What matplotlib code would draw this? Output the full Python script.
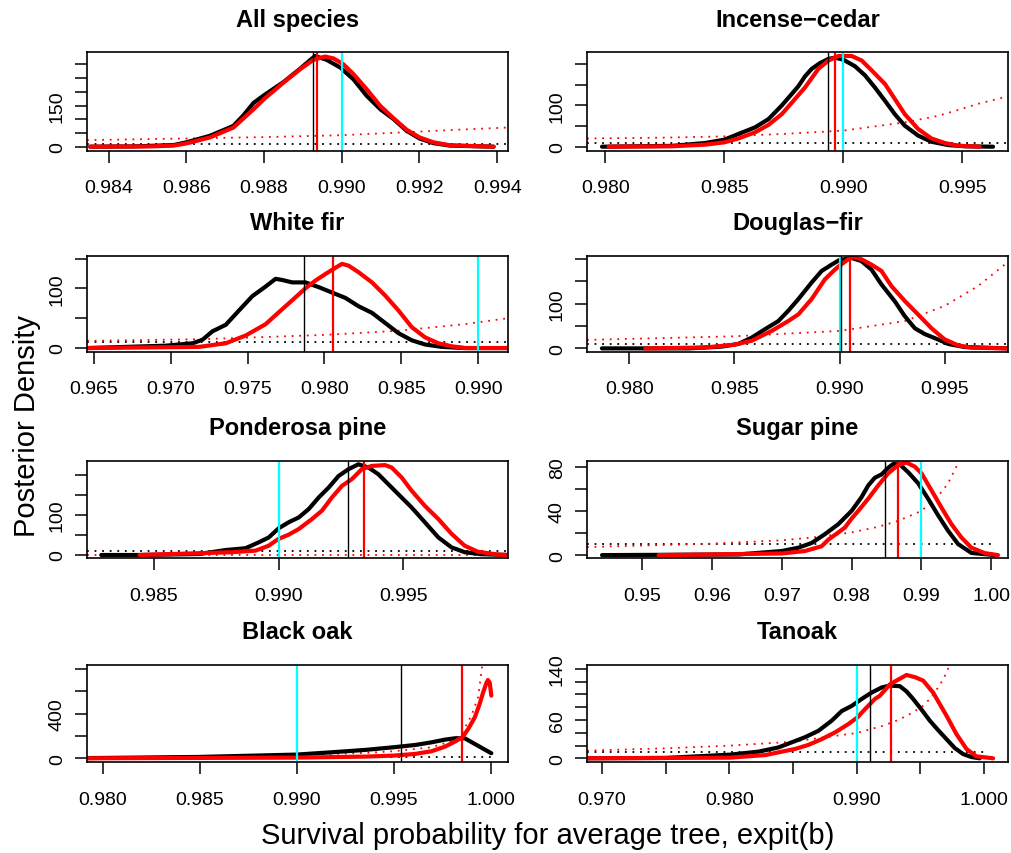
import matplotlib
matplotlib.use("Agg")
import matplotlib.pyplot as plt

plt.rcParams["font.family"] = ["Liberation Sans", "DejaVu Sans"]

# ---------------- DATA ---------------- #

TITLES = ["All species", "Incense\u2212cedar", "White fir", "Douglas\u2212fir",
          "Ponderosa pine", "Sugar pine", "Black oak", "Tanoak"]

TARGET = 0.990          # cyan reference line
FLAT_PRIOR = 10.0       # black dotted prior density
FLAT_PRIOR_END = 1.0

# All species
ALL_XLIM = [0.98344, 0.99428]
ALL_YLIM = [-14.6, 344.5]
ALL_XTICKS = [0.984, 0.986, 0.988, 0.990, 0.992, 0.994]
ALL_XLABELS = ["0.984", "0.986", "0.988", "0.990", "0.992", "0.994"]
ALL_YTICKS = [0, 50, 100, 150, 200, 250, 300]
ALL_YLABELS = ["0", "", "", "150", "", "", ""]
ALL_BLACK_X = [0.98352, 0.98464, 0.98567, 0.98600, 0.98661, 0.98721, 0.98747, 0.98773,
               0.98800, 0.98850, 0.98893, 0.98931, 0.98961, 0.98996, 0.99030, 0.99064,
               0.99099, 0.99133, 0.99167, 0.99200, 0.99236, 0.99279, 0.99391]
ALL_BLACK_Y = [0, 1, 6, 16, 40, 76, 115, 160, 188, 236, 285, 331, 317, 289, 246, 186,
               137, 101, 58, 30, 13, 4, 0]
ALL_RED_X = [0.98352, 0.98506, 0.98567, 0.98600, 0.98661, 0.98721, 0.98773, 0.98800,
             0.98850, 0.98893, 0.98927, 0.98957, 0.98979, 0.99004, 0.99030, 0.99064,
             0.99099, 0.99133, 0.99167, 0.99200, 0.99236, 0.99279, 0.99391]
ALL_RED_Y = [0, 1, 4, 12, 34, 70, 137, 174, 234, 283, 317, 329, 322, 301, 265, 210,
             149, 104, 62, 34, 16, 5, 0]
ALL_PRIOR_X = [0.98344, 0.98600, 0.98800, 0.99000, 0.99200, 0.99300, 0.99428]
ALL_PRIOR_Y = [24, 30, 35, 42, 55, 62, 70]
ALL_VLINES = [0.98927, 0.98936]

# Incense-cedar
IC_XLIM = [0.97923, 0.99693]
IC_YLIM = [-9.7, 229]
IC_XTICKS = [0.980, 0.985, 0.990, 0.995]
IC_XLABELS = ["0.980", "0.985", "0.990", "0.995"]
IC_YTICKS = [0, 50, 100, 150, 200]
IC_YLABELS = ["0", "", "100", "", ""]
IC_BLACK_X = [0.97986, 0.98280, 0.98420, 0.98500, 0.98560, 0.98630, 0.98686, 0.98742,
              0.98784, 0.98812, 0.98840, 0.98868, 0.98903, 0.98938, 0.98966, 0.99001,
              0.99050, 0.99092, 0.99133, 0.99175, 0.99217, 0.99259, 0.99315, 0.99371,
              0.99441, 0.99511, 0.99630]
IC_BLACK_Y = [0, 2, 9, 17, 31, 47, 67, 100, 128, 147, 171, 189, 203, 213, 216, 211,
              195, 173, 144, 112, 79, 51, 27, 12, 4, 1, 0]
IC_RED_X = [0.98014, 0.98280, 0.98420, 0.98500, 0.98560, 0.98630, 0.98686, 0.98742,
            0.98798, 0.98840, 0.98896, 0.98938, 0.98980, 0.99036, 0.99078, 0.99120,
            0.99176, 0.99217, 0.99259, 0.99315, 0.99371, 0.99427, 0.99483, 0.99574]
IC_RED_Y = [0, 1, 5, 10.5, 20, 35, 53, 79, 116, 144, 189, 209, 220, 220, 209, 185,
            152, 116, 79, 43, 20, 9, 2.4, 0]
IC_PRIOR_X = [0.97923, 0.98250, 0.98500, 0.98750, 0.99000, 0.99260, 0.99400, 0.99500,
              0.99567, 0.99693]
IC_PRIOR_Y = [20, 22, 25, 31, 39, 59, 75, 92, 104, 122]
IC_VLINES = [0.98938, 0.98966]

# White fir
WF_XLIM = [0.96455, 0.99194]
WF_YLIM = [-6.1, 154.7]
WF_XTICKS = [0.965, 0.970, 0.975, 0.980, 0.985, 0.990]
WF_XLABELS = ["0.965", "0.970", "0.975", "0.980", "0.985", "0.990"]
WF_YTICKS = [0, 50, 100, 150]
WF_YLABELS = ["0", "", "100", ""]
WF_BLACK_X = [0.96461, 0.96969, 0.97142, 0.97207, 0.97271, 0.97358, 0.97444, 0.97531,
              0.97617, 0.97682, 0.97725, 0.97790, 0.97876, 0.97963, 0.98049, 0.98136,
              0.98222, 0.98309, 0.98395, 0.98481, 0.98568, 0.98654, 0.98762, 0.98914,
              0.99194]
WF_BLACK_Y = [0, 4, 8, 14, 28, 39, 63, 87, 103, 116, 114, 110, 110, 102, 93, 84,
              70, 59, 42, 25, 13, 6, 2, 0, 0]
WF_RED_X = [0.96461, 0.97185, 0.97358, 0.97487, 0.97617, 0.97703, 0.97790, 0.97876,
            0.97941, 0.98006, 0.98049, 0.98114, 0.98157, 0.98222, 0.98309, 0.98395,
            0.98481, 0.98568, 0.98654, 0.98741, 0.98827, 0.98914, 0.99194]
WF_RED_Y = [0, 2, 8, 21, 40, 60, 80, 100, 113, 124, 131, 141, 138, 127, 110, 88,
            63, 35, 18, 8, 3, 0, 0]
WF_PRIOR_X = [0.96455, 0.97220, 0.98000, 0.98480, 0.98910, 0.99194]
WF_PRIOR_Y = [12, 15, 22, 29, 40, 50]
WF_VLINES = [0.97870, 0.98056]

# Douglas-fir
DF_XLIM = [0.97799, 0.99801]
DF_YLIM = [-7.4, 207]
DF_XTICKS = [0.980, 0.985, 0.990, 0.995]
DF_XLABELS = ["0.980", "0.985", "0.990", "0.995"]
DF_YTICKS = [0, 50, 100, 150, 200]
DF_YLABELS = ["0", "", "100", "", ""]
DF_BLACK_X = [0.97870, 0.98282, 0.98440, 0.98519, 0.98582, 0.98646, 0.98709, 0.98756,
              0.98804, 0.98867, 0.98915, 0.98962, 0.98998, 0.99057, 0.99104, 0.99152,
              0.99199, 0.99263, 0.99310, 0.99358, 0.99405, 0.99468, 0.99516, 0.99595,
              0.99801]
DF_BLACK_Y = [0, 0, 4, 10, 24, 43, 61, 84, 110, 147, 173, 187, 197, 202, 195, 176,
              143, 105, 72, 45, 32, 20, 10, 3, 0]
DF_RED_X = [0.98076, 0.98361, 0.98498, 0.98582, 0.98677, 0.98756, 0.98804, 0.98867,
            0.98930, 0.98978, 0.98998, 0.99041, 0.99065, 0.99104, 0.99152, 0.99199,
            0.99247, 0.99310, 0.99373, 0.99437, 0.99500, 0.99563, 0.99627, 0.99801]
DF_RED_Y = [0, 2, 8, 17, 39, 61, 76, 110, 154, 176, 184, 199, 204, 199, 187, 173,
            139, 106, 76, 45, 20, 7, 1.5, 0]
DF_PRIOR_X = [0.97799, 0.98500, 0.99000, 0.99310, 0.99500, 0.99658, 0.99785, 0.99801]
DF_PRIOR_Y = [19, 27, 39, 61, 95, 139, 187, 195]
DF_VLINES = [0.99006, 0.99049]

# Ponderosa pine
PP_XLIM = [0.98233, 0.99919]
PP_YLIM = [-7.5, 236]
PP_XTICKS = [0.985, 0.990, 0.995]
PP_XLABELS = ["0.985", "0.990", "0.995"]
PP_YTICKS = [0, 50, 100, 150, 200]
PP_YLABELS = ["0", "", "100", "", ""]
PP_BLACK_X = [0.98290, 0.98443, 0.98682, 0.98789, 0.98868, 0.98922, 0.98961, 0.99001,
              0.99041, 0.99081, 0.99121, 0.99161, 0.99201, 0.99241, 0.99281, 0.99320,
              0.99360, 0.99400, 0.99440, 0.99480, 0.99533, 0.99586, 0.99640, 0.99693,
              0.99746, 0.99812, 0.99919]
PP_BLACK_Y = [0, 0, 2.5, 12.5, 17, 32, 44, 67, 82, 94, 115, 144, 169, 198, 215, 227,
              219, 202, 177, 152, 119, 82, 44, 19, 7, 2, 0]
PP_RED_X = [0.98443, 0.98815, 0.98908, 0.98960, 0.98999, 0.99041, 0.99081, 0.99134,
            0.99174, 0.99214, 0.99254, 0.99294, 0.99334, 0.99374, 0.99427, 0.99453,
            0.99493, 0.99533, 0.99586, 0.99640, 0.99693, 0.99746, 0.99799, 0.99879,
            0.99919]
PP_RED_Y = [0, 7, 11, 23, 40, 51, 65, 90, 111, 144, 173, 190, 215, 223, 225, 219,
            194, 161, 123, 90, 53, 23, 8, 1, 0]
PP_PRIOR_X = [0.98233, 0.99919]
PP_PRIOR_Y = [1, 1]
PP_VLINES = [0.99278, 0.99342]

# Sugar pine
SP_XLIM = [0.94214, 1.00238]
SP_YLIM = [-2.6, 85.4]
SP_XTICKS = [0.95, 0.96, 0.97, 0.98, 0.99, 1.00]
SP_XLABELS = ["0.95", "0.96", "0.97", "0.98", "0.99", "1.00"]
SP_YTICKS = [0, 20, 40, 60, 80]
SP_YLABELS = ["0", "", "40", "", "80"]
SP_BLACK_X = [0.94429, 0.96381, 0.97000, 0.97238, 0.97429, 0.97619, 0.97810, 0.98000,
              0.98143, 0.98238, 0.98333, 0.98429, 0.98524, 0.98595, 0.98690, 0.98810,
              0.98952, 0.99095, 0.99238, 0.99381, 0.99524, 0.99714, 1.00048]
SP_BLACK_Y = [0, 0.6, 3.7, 6.7, 11, 19, 28, 40, 52.5, 63, 70, 73, 79, 82.4, 82, 75,
              65, 51, 36, 22, 10, 2, 0]
SP_RED_X = [0.95238, 0.97000, 0.97333, 0.97571, 0.97667, 0.97810, 0.97905, 0.98000,
            0.98095, 0.98238, 0.98381, 0.98524, 0.98667, 0.98786, 0.98905, 0.99000,
            0.99143, 0.99286, 0.99429, 0.99571, 0.99714, 0.99905, 1.00095]
SP_RED_Y = [0, 1.5, 3.7, 8, 14, 20.5, 25, 33, 40, 51, 63, 74, 81.5, 83.7, 80, 74,
            58.6, 43, 28, 16, 6.7, 1.8, 0]
SP_PRIOR_X = [0.94214, 0.96000, 0.97000, 0.97524, 0.98000, 0.98381, 0.98667, 0.99000,
              0.99143, 0.99286, 0.99381, 0.99500, 0.99600]
SP_PRIOR_Y = [7.3, 10.4, 13.4, 16.5, 20.5, 25.6, 31, 40, 48, 57, 65, 80, 95]
SP_VLINES = [0.98476, 0.98667]

# Black oak
BO_XLIM = [0.97918, 1.00089]
BO_YLIM = [-36, 838]
BO_XTICKS = [0.980, 0.985, 0.990, 0.995, 1.000]
BO_XLABELS = ["0.980", "0.985", "0.990", "0.995", "1.000"]
BO_YTICKS = [0, 200, 400, 600, 800]
BO_YLABELS = ["0", "", "400", "", ""]
BO_BLACK_X = [0.97918, 0.98000, 0.98497, 0.98998, 0.99182, 0.99353, 0.99500, 0.99610,
              0.99695, 0.99764, 0.99815, 0.99866, 0.99918, 0.99969, 1.00003]
BO_BLACK_Y = [2, 3, 12, 33, 54, 75, 99, 119, 143, 167, 179, 179, 128, 78, 45]
BO_RED_X = [0.97918, 0.98998, 0.99353, 0.99500, 0.99610, 0.99695, 0.99764, 0.99815,
            0.99854, 0.99884, 0.99918, 0.99944, 0.99961, 0.99978, 0.99986, 0.99995,
            1.00003]
BO_RED_Y = [0, 6, 15, 24, 39, 63, 104, 149, 188, 263, 367, 493, 591, 675, 701, 675, 561]
BO_PRIOR_X = [0.97918, 0.98500, 0.99000, 0.99350, 0.99500, 0.99695, 0.99798, 0.99854,
              0.99900, 0.99935, 0.99955, 0.99970]
BO_PRIOR_Y = [9, 15, 30, 48, 63, 99, 152, 233, 382, 546, 815, 1000]
BO_VLINES = [0.99538, 0.99854]

# Tanoak
TO_XLIM = [0.96882, 1.00188]
TO_YLIM = [-6.3, 146.7]
TO_XTICKS = [0.970, 0.975, 0.980, 0.985, 0.990, 0.995, 1.000]
TO_XLABELS = ["0.970", "", "0.980", "", "0.990", "", "1.000"]
TO_YTICKS = [0, 20, 40, 60, 80, 100, 120, 140]
TO_YLABELS = ["0", "", "", "60", "", "", "", "140"]
TO_BLACK_X = [0.96882, 0.97497, 0.98006, 0.98228, 0.98385, 0.98503, 0.98594, 0.98699,
              0.98804, 0.98882, 0.98960, 0.99039, 0.99117, 0.99196, 0.99260, 0.99339,
              0.99390, 0.99443, 0.99510, 0.99574, 0.99640, 0.99705, 0.99770, 0.99835,
              0.99900, 0.99966]
TO_BLACK_Y = [0, 0.5, 5.7, 10.4, 17, 26, 33, 43, 59, 74, 82, 93, 103, 111, 114, 113,
              105, 93, 76, 59, 44, 30, 16, 6.7, 2, 0]
TO_RED_X = [0.96882, 0.98006, 0.98281, 0.98412, 0.98516, 0.98621, 0.98725, 0.98830,
            0.98934, 0.99005, 0.99065, 0.99143, 0.99182, 0.99261, 0.99391, 0.99460,
            0.99522, 0.99600, 0.99705, 0.99783, 0.99862, 0.99940, 1.00071]
TO_RED_Y = [0, 1, 5, 10.4, 14.6, 21, 30, 40.6, 53.6, 64, 77, 93, 98, 116, 130.6, 127,
            121.7, 103, 66.8, 38, 14.6, 3, 0]
TO_PRIOR_X = [0.96882, 0.97500, 0.98000, 0.98500, 0.98750, 0.99000, 0.99208, 0.99325,
              0.99430, 0.99520, 0.99574, 0.99639, 0.99680, 0.99726, 0.99760]
TO_PRIOR_Y = [12, 15.6, 19.8, 26, 33, 39.6, 51, 60, 70.5, 82, 93, 111, 124, 144, 165]
TO_VLINES = [0.99104, 0.99266]

PANELS = [
    (ALL_XLIM, ALL_YLIM, ALL_XTICKS, ALL_XLABELS, ALL_YTICKS, ALL_YLABELS,
     ALL_BLACK_X, ALL_BLACK_Y, ALL_RED_X, ALL_RED_Y, ALL_PRIOR_X, ALL_PRIOR_Y, ALL_VLINES),
    (IC_XLIM, IC_YLIM, IC_XTICKS, IC_XLABELS, IC_YTICKS, IC_YLABELS,
     IC_BLACK_X, IC_BLACK_Y, IC_RED_X, IC_RED_Y, IC_PRIOR_X, IC_PRIOR_Y, IC_VLINES),
    (WF_XLIM, WF_YLIM, WF_XTICKS, WF_XLABELS, WF_YTICKS, WF_YLABELS,
     WF_BLACK_X, WF_BLACK_Y, WF_RED_X, WF_RED_Y, WF_PRIOR_X, WF_PRIOR_Y, WF_VLINES),
    (DF_XLIM, DF_YLIM, DF_XTICKS, DF_XLABELS, DF_YTICKS, DF_YLABELS,
     DF_BLACK_X, DF_BLACK_Y, DF_RED_X, DF_RED_Y, DF_PRIOR_X, DF_PRIOR_Y, DF_VLINES),
    (PP_XLIM, PP_YLIM, PP_XTICKS, PP_XLABELS, PP_YTICKS, PP_YLABELS,
     PP_BLACK_X, PP_BLACK_Y, PP_RED_X, PP_RED_Y, PP_PRIOR_X, PP_PRIOR_Y, PP_VLINES),
    (SP_XLIM, SP_YLIM, SP_XTICKS, SP_XLABELS, SP_YTICKS, SP_YLABELS,
     SP_BLACK_X, SP_BLACK_Y, SP_RED_X, SP_RED_Y, SP_PRIOR_X, SP_PRIOR_Y, SP_VLINES),
    (BO_XLIM, BO_YLIM, BO_XTICKS, BO_XLABELS, BO_YTICKS, BO_YLABELS,
     BO_BLACK_X, BO_BLACK_Y, BO_RED_X, BO_RED_Y, BO_PRIOR_X, BO_PRIOR_Y, BO_VLINES),
    (TO_XLIM, TO_YLIM, TO_XTICKS, TO_XLABELS, TO_YTICKS, TO_YLABELS,
     TO_BLACK_X, TO_BLACK_Y, TO_RED_X, TO_RED_Y, TO_PRIOR_X, TO_PRIOR_Y, TO_VLINES),
]

# ---------------- LAYOUT (pixels) ---------------- #

W, H = 1011, 854
COL_LEFT = [87, 587]
COL_WIDTH = 421
ROW_TOP = [53.3, 256.7, 461.7, 665.7]
ROW_BOTTOM = [151.7, 352.7, 559.0, 763.3]

DOTTED = (0, (1, 3.2))

# ---------------- PLOT ---------------- #

fig = plt.figure(figsize=(W / 100, H / 100), dpi=100)

for i, (title, panel) in enumerate(zip(TITLES, PANELS)):
    (xlim, ylim, xticks, xlabels, yticks, ylabels,
     bx, by, rx, ry, px, py, vlines) = panel
    row, col = divmod(i, 2)

    ax = fig.add_axes([COL_LEFT[col] / W, 1 - ROW_BOTTOM[row] / H,
                       COL_WIDTH / W, (ROW_BOTTOM[row] - ROW_TOP[row]) / H])

    # priors
    ax.plot([xlim[0], FLAT_PRIOR_END], [FLAT_PRIOR, FLAT_PRIOR],
            color="black", lw=1.3, ls=DOTTED)
    ax.plot(px, py, color="red", lw=1.3, ls=DOTTED)

    # posteriors
    ax.plot(bx, by, color="black", lw=3.0,
            solid_capstyle="round", solid_joinstyle="round")
    ax.plot(rx, ry, color="red", lw=3.0,
            solid_capstyle="round", solid_joinstyle="round")

    ax.axvline(TARGET, color="#00FFFF", lw=1.6)
    ax.axvline(vlines[0], color="black", lw=1.0)
    ax.axvline(vlines[1], color="red", lw=1.6)

    ax.set_xlim(xlim)
    ax.set_ylim(ylim)

    ax.set_xticks(xticks)
    ax.set_xticklabels(xlabels)
    ax.set_yticks(yticks)
    ax.set_yticklabels(ylabels, rotation=90, va="center")

    ax.tick_params(direction="out", length=8.6, width=1.1, labelsize=14,
                   top=False, right=False)
    ax.tick_params(axis="x", pad=12)
    ax.tick_params(axis="y", pad=6.6)

    for s in ax.spines.values():
        s.set_linewidth(1.2)

    ax.set_title(title, fontsize=17, fontweight="bold", pad=19)

fig.text(35 / W, 1 - 426 / H, "Posterior Density", fontsize=21,
         rotation=90, rotation_mode="anchor", ha="center", va="baseline")
fig.text(547.5 / W, 1 - 844 / H, "Survival probability for average tree, expit(b)",
         fontsize=21, ha="center", va="baseline")

fig.savefig("out.png", dpi=100)
plt.close(fig)
